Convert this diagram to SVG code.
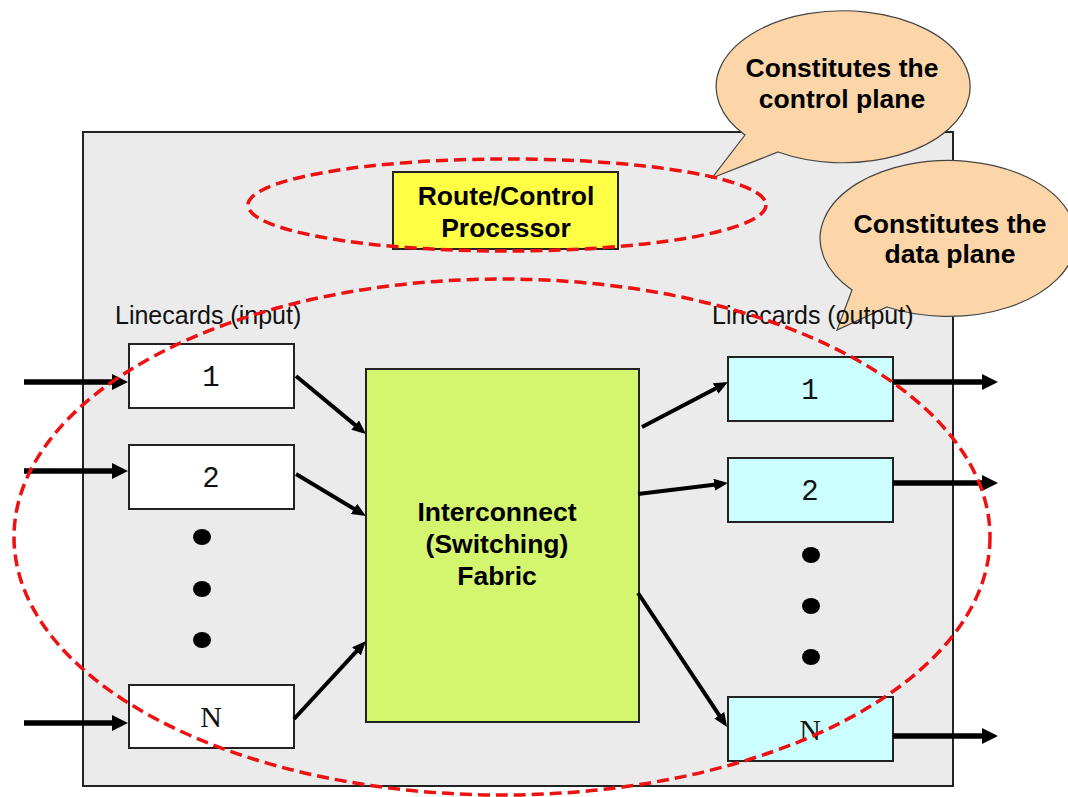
<svg xmlns="http://www.w3.org/2000/svg" width="1068" height="797" viewBox="0 0 1068 797">
<style>
.box{stroke:#222;stroke-width:2}
.in{fill:#ffffff}
.out{fill:#ccffff}
.num{font-family:"Liberation Mono",monospace;font-size:29px;fill:#111;text-anchor:middle}
.serif{font-family:"Liberation Serif",serif;font-size:30px}
.bold{font-family:"Liberation Sans",Arial,sans-serif;font-weight:bold;font-size:26.5px;fill:#000;text-anchor:middle}
.lbl{font-family:"Liberation Sans",Arial,sans-serif;font-size:25px;fill:#111}
.thick{stroke:#000;stroke-width:5.5;fill:none}
.thin{stroke:#000;stroke-width:4;fill:none}
.dash{fill:none;stroke:#ee1111;stroke-width:3.5;stroke-dasharray:12 6}
.callout{fill:#fcd6a9;stroke:#444;stroke-width:1.2}
</style>
<defs>
<marker id="big" markerWidth="16" markerHeight="16" refX="8" refY="8" orient="auto" markerUnits="userSpaceOnUse"><path d="M0,0 L16,8 L0,16 Z" fill="#000"/></marker>
<marker id="sm" markerWidth="14" markerHeight="12" refX="6" refY="6" orient="auto" markerUnits="userSpaceOnUse"><path d="M0,0 L14,6 L0,12 Z" fill="#000"/></marker>
</defs>
<rect width="1068" height="797" fill="#ffffff"/>
<g id="router">
<rect x="83" y="132" width="870" height="654" fill="#ebebeb" stroke="#222" stroke-width="2"/>
</g>
<g id="rcp">
<rect x="393" y="172" width="225" height="77" fill="#ffff44" class="box"/>
<text class="bold" x="506" y="205">Route/Control</text>
<text class="bold" x="506" y="237">Processor</text>
</g>
<g id="fabric">
<rect x="366" y="369" width="273" height="353" fill="#d4f56e" class="box"/>
<text class="bold" x="497" y="521">Interconnect</text>
<text class="bold" x="497" y="553">(Switching)</text>
<text class="bold" x="497" y="585">Fabric</text>
</g>
<g id="in1"><rect x="129" y="344" width="165" height="64" class="box in"/><text class="num" x="211" y="386">1</text></g>
<g id="in2"><rect x="129" y="445" width="165" height="64" class="box in"/><text class="num" x="211" y="487">2</text></g>
<g id="inN"><rect x="129" y="685" width="165" height="63" class="box in"/><text class="num serif" x="211" y="727">N</text></g>
<g id="out1"><rect x="728" y="357" width="165" height="64" class="box out"/><text class="num" x="810" y="399">1</text></g>
<g id="out2"><rect x="728" y="458" width="165" height="64" class="box out"/><text class="num" x="810" y="500">2</text></g>
<g id="outN"><rect x="728" y="697" width="165" height="64" class="box out"/><text class="num serif" x="810" y="740">N</text></g>
<g id="dots" fill="#000">
<ellipse cx="202" cy="537" rx="9" ry="8"/>
<ellipse cx="202" cy="589" rx="9" ry="8"/>
<ellipse cx="202" cy="640" rx="9" ry="8"/>
<ellipse cx="811" cy="555" rx="9" ry="8"/>
<ellipse cx="811" cy="606" rx="9" ry="8"/>
<ellipse cx="811" cy="657" rx="9" ry="8"/>
</g>
<g id="connectors">
<line class="thick" x1="24" y1="382" x2="120" y2="382" marker-end="url(#big)"/>
<line class="thick" x1="24" y1="471" x2="120" y2="471" marker-end="url(#big)"/>
<line class="thick" x1="24" y1="723" x2="120" y2="723" marker-end="url(#big)"/>
<line class="thick" x1="893" y1="382" x2="990" y2="382" marker-end="url(#big)"/>
<line class="thick" x1="893" y1="483" x2="990" y2="483" marker-end="url(#big)"/>
<line class="thick" x1="893" y1="736" x2="990" y2="736" marker-end="url(#big)"/>
<line class="thin" x1="296" y1="376" x2="359.8" y2="428.9" marker-end="url(#sm)"/>
<line class="thin" x1="296" y1="474" x2="359.1" y2="511.9" marker-end="url(#sm)"/>
<line class="thin" x1="294" y1="719" x2="360.6" y2="646.9" marker-end="url(#sm)"/>
<line class="thin" x1="642" y1="427" x2="720.9" y2="385.7" marker-end="url(#sm)"/>
<line class="thin" x1="638" y1="494" x2="720.1" y2="484" marker-end="url(#sm)"/>
<line class="thin" x1="638" y1="593" x2="722.6" y2="720.3" marker-end="url(#sm)"/>
</g>
<g id="callout-control">
<path class="callout" d="M745,135 L712,178 L778,152 A127,76 0 1 0 745,135 Z"/>
<text class="bold" x="842" y="77">Constitutes the</text>
<text class="bold" x="842" y="108">control plane</text>
</g>
<g id="callout-data">
<path class="callout" d="M852,290 L837,330 L887,307 A128,78 0 1 0 852,290 Z"/>
<text class="bold" x="950" y="233">Constitutes the</text>
<text class="bold" x="950" y="263">data plane</text>
</g>
<g id="labels">
<text class="lbl" x="115" y="324">Linecards (input)</text>
<text class="lbl" x="712" y="324">Linecards (output)</text>
</g>
<g id="planes">
<ellipse class="dash" cx="507" cy="205" rx="259" ry="46"/>
<ellipse class="dash" cx="502" cy="537" rx="488" ry="258"/>
</g>
</svg>
